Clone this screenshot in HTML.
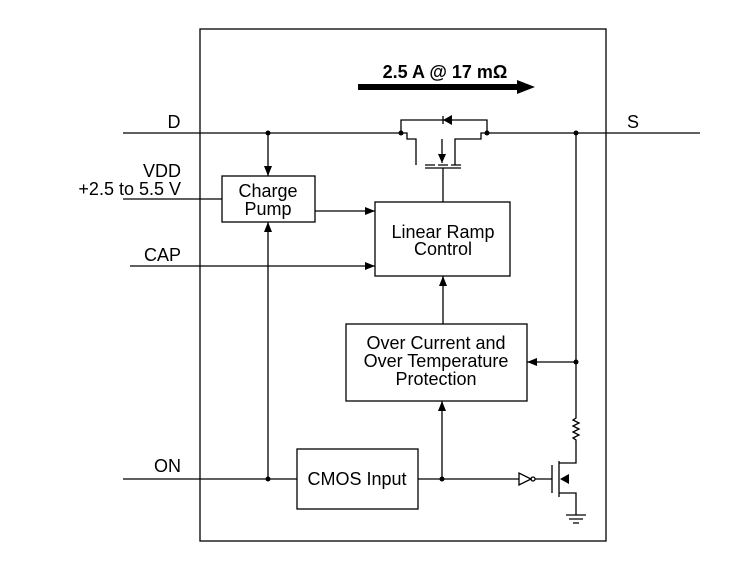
<!DOCTYPE html>
<html><head><style>body{margin:0;background:#fff}svg{display:block}text{font-family:"Liberation Sans",sans-serif;fill:#000}</style></head><body>
<svg width="746" height="582" viewBox="0 0 746 582" xmlns="http://www.w3.org/2000/svg">
<defs><marker id="a" markerWidth="10" markerHeight="8" refX="10" refY="4" orient="auto" markerUnits="userSpaceOnUse"><path d="M0,0L10,4L0,8z"/></marker></defs>
<g fill="none" stroke="#000" stroke-width="1.3">
<rect x="200" y="29" width="406" height="512"/>
<rect x="222" y="176" width="93" height="46"/>
<rect x="375" y="202" width="135" height="74"/>
<rect x="346" y="324" width="181" height="77"/>
<rect x="297" y="449" width="121" height="60"/>
<path d="M123 133H401M487 133H700"/>
<path d="M401 133V120H487V133"/>
<path d="M401 133H407V139H416V165M487 133H481V139H455V165M442 139V163"/>
<path d="M425 165h10M438 165h10M451 165h10M425 168h36M443 168V202"/>
<path d="M443 116v8"/>
<path d="M268 133V176" marker-end="url(#a)"/>
<path d="M315 211H375" marker-end="url(#a)"/>
<path d="M123 199H222"/>
<path d="M130 266H375" marker-end="url(#a)"/>
<path d="M123 479H297"/>
<path d="M268 479V222" marker-end="url(#a)"/>
<path d="M443 324V276" marker-end="url(#a)"/>
<path d="M418 479H519"/>
<path d="M442 479V401" marker-end="url(#a)"/>
<path d="M576 133V418l-3 2 6 3-6 3 6 3-6 3 6 3-6 3 3 2V463H559M559 493H576V515"/>
<path d="M576 362H527" marker-end="url(#a)"/>
<path d="M519 473v12l12-6z"/>
<circle cx="533" cy="479" r="2"/>
<path d="M535 479H552M552 465V493M559 461V497"/>
<path d="M566 515h20M569 519h14M573 523h6"/>
</g>
<circle cx="268" cy="133" r="2.5"/><circle cx="401" cy="133" r="2.5"/><circle cx="487" cy="133" r="2.5"/><circle cx="576" cy="133" r="2.5"/>
<circle cx="576" cy="362" r="2.5"/><circle cx="268" cy="479" r="2.5"/><circle cx="442" cy="479" r="2.5"/>
<path d="M442 163l-4-9h8z"/><path d="M443 120l9-5v10z"/><path d="M560 479l9-5v10z"/>
<path d="M358 84H517V80L535 87L517 94V90H358z"/>
<text x="445" y="78" font-size="18" font-weight="bold" text-anchor="middle">2.5 A @ 17 mΩ</text>
<g font-size="18">
<text x="174" y="128" text-anchor="middle">D</text>
<text x="633" y="128" text-anchor="middle">S</text>
<text x="181" y="177" text-anchor="end">VDD</text>
<text x="181" y="195" text-anchor="end">+2.5 to 5.5 V</text>
<text x="181" y="261" text-anchor="end">CAP</text>
<text x="181" y="472" text-anchor="end">ON</text>
<text x="268" y="197" text-anchor="middle">Charge</text>
<text x="268" y="215" text-anchor="middle">Pump</text>
<text x="443" y="238" text-anchor="middle">Linear Ramp</text>
<text x="443" y="255" text-anchor="middle">Control</text>
<text x="436" y="349" text-anchor="middle">Over Current and</text>
<text x="436" y="367" text-anchor="middle">Over Temperature</text>
<text x="436" y="385" text-anchor="middle">Protection</text>
<text x="357" y="485" text-anchor="middle">CMOS Input</text>
</g>
</svg>
</body></html>
